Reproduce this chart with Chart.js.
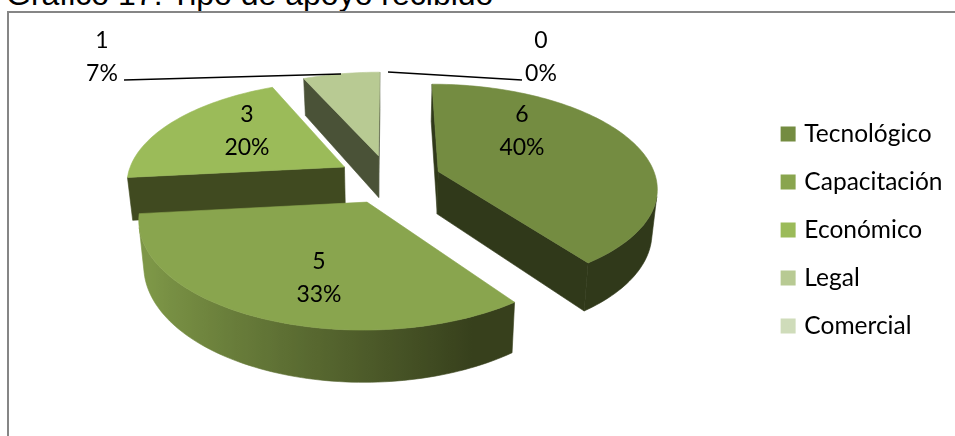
<!DOCTYPE html>
<html>
<head>
<meta charset="utf-8">
<title>Tipo de apoyo recibido</title>
<script src="https://cdn.jsdelivr.net/npm/chart.js@4/dist/chart.umd.js"></script>
<style>
  html, body { margin: 0; padding: 0; background: #fff; overflow: hidden; }
  #wrap { position: relative; width: 955px; height: 436px; overflow: hidden; }
  #title { position: absolute; left: 6px; top: -24px; font: 32px "Liberation Sans", Arial, sans-serif; color: #000; white-space: nowrap; }
  #frame { position: absolute; left: 7px; top: 11px; width: 960px; height: 440px; border-top: 2px solid #868686; border-left: 2px solid #868686; }
  canvas { position: absolute; left: 0; top: 0; }
</style>
</head>
<body>
<div id="wrap">
  <div id="title">Gráfico 17: Tipo de apoyo recibido</div>
  <div id="frame"></div>
  <canvas id="chart" width="955" height="436"></canvas>
</div>
<script>
const categories = ['Tecnológico', 'Capacitación', 'Económico', 'Legal', 'Comercial'];
const values = [6, 5, 3, 1, 0];
const percents = ['40%', '33%', '20%', '7%', '0%'];

const topColors = ['#748c41', '#89a54e', '#9bbb59', '#b8ca93', '#cfdcba'];
const cutColors = ['#30391a', '#37401c', '#404a20', '#4a5237', '#5a6444'];

// where the pie sits on the page and how the tilted plane is seen
const view = { cx: 389, cy: 179, fx: 218, fy: 102, persp: 0.145, depth: 43, shrink: 0.98, explode: 0.24 };

// label centres, same order as categories
const labelPos = [[522, 131], [319, 278], [247, 131], [102, 57], [541, 57]];
const leaders = [[[124, 80], [341, 74]], [[388, 72], [522, 80]]];

function project(u, v, z) {
  const s = 1 / (1 - view.persp * v);
  const k = 1 - (1 - view.shrink) * z;
  return [view.cx + view.fx * u * s * k, view.cy + view.fy * v * s + view.depth * z * s];
}

// a = chart.js arc angle (0 is to the right, clockwise)
function rimPoint(a, ox, oy, z) {
  return project(ox + Math.cos(a), oy + Math.sin(a), z);
}

function fillPoly(ctx, pts, color) {
  ctx.beginPath();
  pts.forEach((p, i) => (i ? ctx.lineTo(p[0], p[1]) : ctx.moveTo(p[0], p[1])));
  ctx.closePath();
  ctx.fillStyle = color;
  ctx.fill();
  ctx.strokeStyle = color;
  ctx.lineWidth = 0.6;
  ctx.stroke();
}

function facing(pts) {
  let area = 0;
  pts.forEach((p, i) => {
    const q = pts[(i + 1) % pts.length];
    area += p[0] * q[1] - q[0] * p[1];
  });
  return area;
}

function mixColor(a, b, t) {
  const pa = [1, 3, 5].map(i => parseInt(a.substr(i, 2), 16));
  const pb = [1, 3, 5].map(i => parseInt(b.substr(i, 2), 16));
  return 'rgb(' + pa.map((c, i) => Math.round(c + (pb[i] - c) * t)).join(',') + ')';
}

function wallShade(a) {
  return Math.min(1, Math.max(0, (0.42 - Math.cos(a)) / 1.3)) * 0.85;
}

function drawWedge(ctx, arc, i) {
  const start = arc.startAngle, end = arc.endAngle;
  const mid = (start + end) / 2;
  const ox = view.explode * Math.cos(mid), oy = view.explode * Math.sin(mid);
  const steps = Math.max(8, Math.round((end - start) * 40));

  // cut faces
  [[start, 1], [end, -1]].forEach(([a, dir]) => {
    const quad = [project(ox, oy, 0), rimPoint(a, ox, oy, 0), rimPoint(a, ox, oy, 1), project(ox, oy, 1)];
    if (facing(quad) * dir < 0) fillPoly(ctx, quad, cutColors[i]);
  });

  // outer wall: only the part that faces the viewer, shaded left to right
  const angles = [];
  for (let k = 0; k <= steps; k++) {
    const a = start + (end - start) * k / steps, b = a + 0.001;
    const quad = [rimPoint(a, ox, oy, 0), rimPoint(b, ox, oy, 0), rimPoint(b, ox, oy, 1), rimPoint(a, ox, oy, 1)];
    if (facing(quad) < 0) angles.push(a);
  }
  if (angles.length > 1) {
    const upper = angles.map(a => rimPoint(a, ox, oy, 0));
    const lower = angles.map(a => rimPoint(a, ox, oy, 1)).reverse();
    const xs = upper.map(p => p[0]);
    const x0 = Math.min(...xs), x1 = Math.max(...xs);
    const grad = ctx.createLinearGradient(x0, 0, x1, 0);
    angles.forEach((a, k) => {
      grad.addColorStop(Math.min(1, Math.max(0, (xs[k] - x0) / (x1 - x0))), mixColor(cutColors[i], topColors[i], wallShade(a)));
    });
    fillPoly(ctx, upper.concat(lower), grad);
  }

  const top = [project(ox, oy, 0)];
  for (let k = 0; k <= steps; k++) top.push(rimPoint(start + (end - start) * k / steps, ox, oy, 0));
  fillPoly(ctx, top, topColors[i]);
}

const pie3d = {
  id: 'pie3d',
  beforeDatasetDraw(chart, args) {
    const ctx = chart.ctx;
    const order = args.meta.data.map((arc, i) => i).filter(i => values[i] > 0);
    // paint the far wedges first
    order.sort((a, b) => {
      const ma = args.meta.data[a], mb = args.meta.data[b];
      return Math.sin((ma.startAngle + ma.endAngle) / 2) - Math.sin((mb.startAngle + mb.endAngle) / 2);
    });
    ctx.save();
    order.forEach(i => drawWedge(ctx, args.meta.data[i], i));
    ctx.restore();
    return false; // wedges are done, skip the flat arcs
  },
  afterDatasetsDraw(chart) {
    const ctx = chart.ctx;
    ctx.save();
    ctx.strokeStyle = '#000';
    ctx.lineWidth = 1.7;
    leaders.forEach(l => {
      ctx.beginPath();
      ctx.moveTo(l[0][0], l[0][1]);
      ctx.lineTo(l[1][0], l[1][1]);
      ctx.stroke();
    });
    ctx.fillStyle = '#000';
    ctx.font = '23px Lato';
    ctx.textAlign = 'center';
    ctx.textBaseline = 'middle';
    values.forEach((v, i) => {
      ctx.fillText(String(v), labelPos[i][0], labelPos[i][1] - 16.5);
      ctx.fillText(percents[i], labelPos[i][0], labelPos[i][1] + 16.5);
    });
    ctx.restore();
  }
};

new Chart(document.getElementById('chart'), {
  type: 'pie',
  data: {
    labels: categories,
    datasets: [{ data: values, backgroundColor: topColors, borderColor: topColors, borderWidth: 7 }]
  },
  options: {
    responsive: false,
    animation: false,
    layout: { padding: { right: 2.5, top: 24 } },
    plugins: {
      tooltip: { enabled: false },
      legend: {
        position: 'right',
        labels: { boxWidth: 8, boxHeight: 8, padding: 23.5, color: '#000', font: { family: 'Lato', size: 24.5 } }
      }
    }
  },
  plugins: [pie3d]
});
</script>
</body>
</html>
